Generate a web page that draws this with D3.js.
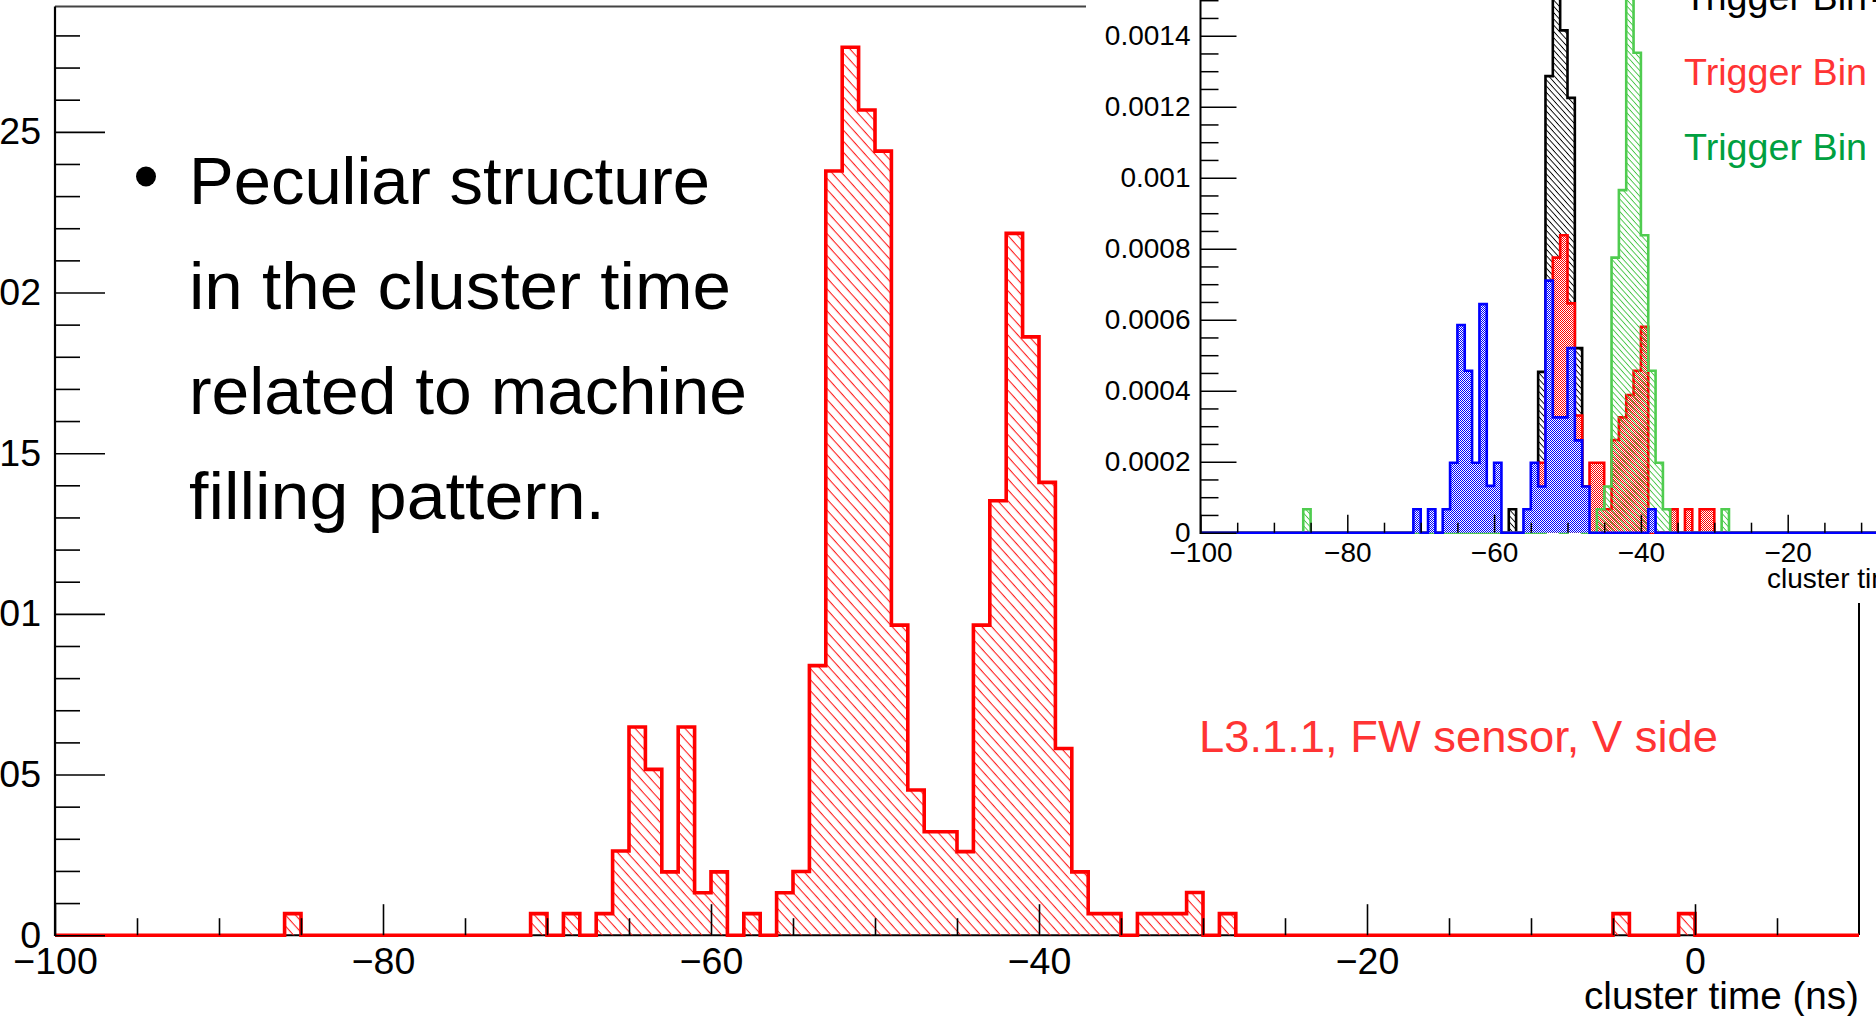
<!DOCTYPE html>
<html>
<head>
<meta charset="utf-8">
<script src="https://cdn.jsdelivr.net/npm/d3@7"></script>
<style>
body { margin: 0; background: #fff; overflow: hidden; }
svg { display: block; }
text { font-family: "Liberation Sans", Arial, sans-serif; }
</style>
</head>
<body>
<svg id="chart" width="1876" height="1016"></svg>
<script>
// main histogram: L3.1.1 FW sensor V side, 1 ns bins (left edge -> normalised entries)
var mainBins = [-86,-71,-69,-67,-66,-65,-64,-63,-62,-61,-60,-58,-56,-55,-54,-53,-52,-51,-50,-49,-48,-47,-46,-45,-44,-43,-42,-41,-40,-39,-38,-37,-36,-34,-33,-32,-31,-29,-5,-1];
var mainVals = [0.000067,0.000067,0.000067,0.000067,0.000262,0.000648,0.000516,0.000197,0.000648,0.000132,0.000197,0.000067,0.000132,0.000198,0.000839,0.002378,0.002763,0.002568,0.002440,0.000965,0.000452,0.000322,0.000322,0.000260,0.000965,0.001352,0.002184,0.001862,0.001409,0.000581,0.000197,0.000067,0.000067,0.000067,0.000067,0.000067,0.000133,0.000067,0.000067,0.000067];

// inset histograms (trigger bins)
var blackBins = [-66,-65,-58,-54,-53,-52,-51,-50,-49,-48,-47,-46,-44,-42,-40];
var blackVals = [0.000066,0.000066,0.000066,0.000453,0.001286,0.0019,0.001415,0.001225,0.00052,0.00013,0.00013,0.000066,0.000066,0.000066,0.000066];
var redBins = [-64,-54,-53,-52,-51,-50,-49,-48,-47,-46,-45,-44,-43,-42,-41,-40,-36,-34,-32,-31];
var redVals = [0.000066,0.000197,0.00045,0.000775,0.000838,0.000646,0.00033,0.00013,0.000197,0.000197,0.000066,0.000261,0.000325,0.000388,0.000456,0.00058,0.000066,0.000066,0.000066,0.000066];
var greenBins = [-86,-53,-52,-50,-49,-46,-45,-44,-43,-42,-41,-40,-39,-38,-37,-29];
var greenVals = [0.000066,0.00013,0.00013,0.000066,0.000066,0.000066,0.00013,0.000775,0.000965,0.0017,0.001352,0.000838,0.000456,0.000197,0.000066,0.000066];
var blueBins = [-71,-69,-67,-66,-65,-64,-63,-62,-61,-60,-56,-55,-54,-53,-52,-51,-50,-49,-48,-39];
var blueVals = [0.000066,0.000066,0.000066,0.000197,0.000585,0.000456,0.000197,0.000644,0.000132,0.000197,0.000066,0.000197,0.00013,0.00071,0.000325,0.000325,0.00052,0.00026,0.00013,0.000066];

var bulletLines = ["Peculiar structure", "in the cluster time", "related to machine", "filling pattern."];
var legendLabels = ["Trigger Bin", "Trigger Bin", "Trigger Bin"];

var xMin = -100, xMax = 10;

function fullHist(bins, vals) {
    var out = [];
    for (var e = xMin; e < xMax; e++) {
        var i = bins.indexOf(e);
        out.push({x0: e, x1: e + 1, v: i < 0 ? 0 : vals[i]});
    }
    return out;
}

var svg = d3.select("#chart");
var defs = svg.append("defs");

function hatch(id, color, gap, width, angle) {
    var p = defs.append("pattern").attr("id", id).attr("patternUnits", "userSpaceOnUse")
        .attr("width", 20).attr("height", gap).attr("patternTransform", "rotate(" + angle + ")");
    p.append("rect").attr("x", 0).attr("y", 0).attr("width", 20).attr("height", width).attr("fill", color);
}
function dots(id, color) {
    var p = defs.append("pattern").attr("id", id).attr("patternUnits", "userSpaceOnUse")
        .attr("width", 2).attr("height", 2);
    p.append("rect").attr("width", 2).attr("height", 2).attr("fill", "#fff");
    p.append("rect").attr("x", 0).attr("y", 0).attr("width", 1).attr("height", 1).attr("fill", color);
    p.append("rect").attr("x", 1).attr("y", 1).attr("width", 1).attr("height", 1).attr("fill", color);
}
hatch("hMain", "#ff2020", 7.4, 1.1, 48);
hatch("hBlack", "#000", 4.2, 0.9, 48);
hatch("hGreen", "#44c444", 4.2, 0.9, 48);
dots("dRed", "#ff0000");
dots("dBlue", "#0000ff");

function drawHist(g, data, x, y, stroke, sw, fill) {
    var pts = data.map(function(d) { return [d.x0, d.v]; });
    pts.push([data[data.length - 1].x1, data[data.length - 1].v]);
    var area = d3.area().curve(d3.curveStepAfter)
        .x(function(d) { return x(d[0]); }).y0(y(0)).y1(function(d) { return y(d[1]); });
    g.append("path").attr("d", area(pts)).attr("fill", fill).attr("stroke", "none");
    var line = d3.line().curve(d3.curveStepAfter)
        .x(function(d) { return x(d[0]); }).y(function(d) { return y(d[1]); });
    var outline = [[xMin, 0]].concat(pts, [[xMax, 0]]);
    g.append("path").attr("d", line(outline)).attr("fill", "none")
        .attr("stroke", stroke).attr("stroke-width", sw).attr("stroke-linejoin", "miter");
}

function yFmt(d) { return d === 0 ? "0" : String(+d.toFixed(5)); }

// ---------------- main plot ----------------
var mx = d3.scaleLinear().domain([xMin, xMax]).range([55, 1859]);
var my = d3.scaleLinear().domain([0, 0.00289]).range([935.2, 6.5]);
var main = svg.append("g");

main.append("line").attr("x1", 55).attr("x2", 1859).attr("y1", 6.5).attr("y2", 6.5).attr("stroke", "#444").attr("stroke-width", 2);
main.append("line").attr("x1", 1859).attr("x2", 1859).attr("y1", 6.5).attr("y2", 935).attr("stroke", "#000").attr("stroke-width", 2);
main.append("line").attr("x1", 55).attr("x2", 1859).attr("y1", 935.2).attr("y2", 935.2).attr("stroke", "#000").attr("stroke-width", 2);

drawHist(main.append("g"), fullHist(mainBins, mainVals), mx, my, "#ff0000", 3.6, "url(#hMain)");

var yMajor = d3.range(0, 6).map(function(i) { return i * 0.0005; });
var yMinor = d3.range(0, 29).filter(function(i) { return i % 5 !== 0; }).map(function(i) { return i * 0.0001; });
var xMajor = d3.range(-100, 10, 20);
var xMinor = d3.range(-95, 10, 5).filter(function(v) { return v % 20 !== 0; });

var axisFont = 37.5;
main.append("g").attr("transform", "translate(55,0)")
    .call(d3.axisLeft(my).tickValues(yMinor).tickSize(-25).tickFormat(""));
main.append("g").attr("transform", "translate(55,0)")
    .call(d3.axisLeft(my).tickValues(yMajor).tickSize(-50).tickPadding(14).tickFormat(yFmt));
main.append("g").attr("transform", "translate(0,935.2)")
    .call(d3.axisBottom(mx).tickValues(xMinor).tickSize(-17).tickFormat(""));
main.append("g").attr("transform", "translate(0,935.2)")
    .call(d3.axisBottom(mx).tickValues(xMajor).tickSize(-31).tickPadding(12));
main.selectAll(".domain").remove();
main.selectAll(".tick line").attr("stroke", "#000").attr("stroke-width", 1.6);
main.selectAll(".tick text").attr("font-size", axisFont).attr("font-family", "Liberation Sans, Arial, sans-serif").attr("fill", "#000");
main.append("line").attr("x1", 55).attr("x2", 55).attr("y1", 6.5).attr("y2", 936).attr("stroke", "#000").attr("stroke-width", 2.2);

main.append("text").attr("x", 1859).attr("y", 1009).attr("text-anchor", "end")
    .attr("font-size", 38).attr("textLength", 275).attr("lengthAdjust", "spacingAndGlyphs")
    .text("cluster time (ns)");

main.append("text").attr("x", 1199).attr("y", 752).attr("font-size", 45).attr("fill", "#ff3434")
    .attr("textLength", 519).attr("lengthAdjust", "spacingAndGlyphs")
    .text("L3.1.1, FW sensor, V side");

// bullet text
svg.append("circle").attr("cx", 146).attr("cy", 176.5).attr("r", 10).attr("fill", "#000");
var lineLen = [521, 542, 558, 416];
bulletLines.forEach(function(t, i) {
    svg.append("text").attr("x", 189).attr("y", 204 + i * 105).attr("font-size", 66)
        .attr("textLength", lineLen[i]).attr("lengthAdjust", "spacingAndGlyphs").attr("fill", "#000").text(t);
});

// ---------------- inset ----------------
var inset = svg.append("g");
inset.append("rect").attr("x", 1086).attr("y", 0).attr("width", 800).attr("height", 603).attr("fill", "#fff");
var ix = d3.scaleLinear().domain([-100, -20]).range([1200.5, 1787.7]);
var iy = d3.scaleLinear().domain([0, 0.0014]).range([532.7, 35.7]);

drawHist(inset.append("g"), fullHist(blackBins, blackVals), ix, iy, "#000", 2.6, "url(#hBlack)");
drawHist(inset.append("g"), fullHist(redBins, redVals), ix, iy, "#ff0000", 2.6, "url(#dRed)");
drawHist(inset.append("g"), fullHist(greenBins, greenVals), ix, iy, "#4fcc4f", 2.6, "url(#hGreen)");
drawHist(inset.append("g"), fullHist(blueBins, blueVals), ix, iy, "#0000ff", 2.6, "url(#dBlue)");

var iyMajor = d3.range(0, 9).map(function(i) { return i * 0.0002; });
var iyMinor = d3.range(0, 32).filter(function(i) { return i % 4 !== 0; }).map(function(i) { return i * 0.00005; });
var ixMajor = d3.range(-100, 20, 20);
var ixMinor = d3.range(-95, 15, 5).filter(function(v) { return v % 20 !== 0; });

inset.append("g").attr("transform", "translate(1200.5,0)")
    .call(d3.axisLeft(iy).tickValues(iyMinor).tickSize(-18).tickFormat(""));
inset.append("g").attr("transform", "translate(1200.5,0)")
    .call(d3.axisLeft(iy).tickValues(iyMajor).tickSize(-36).tickPadding(10).tickFormat(yFmt));
inset.append("g").attr("transform", "translate(0,532.7)")
    .call(d3.axisBottom(ix).tickValues(ixMinor).tickSize(-10).tickFormat(""));
inset.append("g").attr("transform", "translate(0,532.7)")
    .call(d3.axisBottom(ix).tickValues(ixMajor).tickSize(-18).tickPadding(9));
inset.selectAll(".domain").remove();
inset.selectAll(".tick line").attr("stroke", "#000").attr("stroke-width", 1.5);
inset.selectAll(".tick text").attr("font-size", 28).attr("font-family", "Liberation Sans, Arial, sans-serif").attr("fill", "#000");
inset.append("line").attr("x1", 1200.5).attr("x2", 1200.5).attr("y1", -5).attr("y2", 534).attr("stroke", "#000").attr("stroke-width", 2);

inset.append("text").attr("x", 1767).attr("y", 588).attr("font-size", 28).text("cluster time (ns)");

var legColors = ["#000", "#ff3434", "#00a040"];
legendLabels.forEach(function(t, i) {
    inset.append("text").attr("x", 1684).attr("y", 9.5 + i * 75).attr("font-size", 37)
        .attr("textLength", 183).attr("lengthAdjust", "spacingAndGlyphs")
        .attr("fill", legColors[i]).text(t);
});
inset.append("text").attr("x", 1871).attr("y", 9.5).attr("font-size", 37).attr("fill", "#000").text("-1");
</script>
</body>
</html>
